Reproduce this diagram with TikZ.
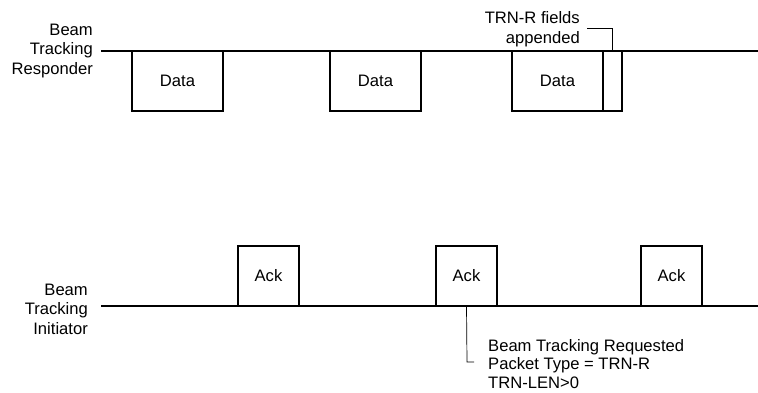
\documentclass[tikz,border=0pt]{standalone}
\usepackage{fontspec}
\setmainfont{Liberation Sans}
\begin{document}
\begin{tikzpicture}[x=1pt,y=-1pt,
  every node/.style={font=\fontsize{16.6}{19.5}\selectfont},
  frame/.style={draw,line width=1.3pt,inner sep=0pt,outer sep=0pt,anchor=north west},
  ln/.style={line width=1.3pt},
  lead/.style={line width=0.7pt},
  lbl/.style={align=right,anchor=east,inner sep=0pt}]
\useasboundingbox (0,0) rectangle (758,392);
% timelines
\coordinate (t0) at (101,51);
\coordinate (t1) at (758,51);
\coordinate (b0) at (101,306);
\coordinate (b1) at (758,306);
\draw[ln] (t0) -- (t1);
\draw[ln] (b0) -- (b1);
% labels
\node[lbl] (resp) at (93,51) {Beam\\Tracking\\Responder};
\node[lbl] (init) at (88,309) {Beam\\Tracking\\Initiator};
% data boxes
\node[frame,minimum width=91pt,minimum height=60pt] (d1) at (132,51) {Data};
\node[frame,minimum width=91pt,minimum height=60pt] (d2) at (330,51) {Data};
\node[frame,minimum width=91pt,minimum height=60pt] (d3) at (512,51) {Data};
\node[frame,minimum width=19pt,minimum height=60pt] (trn) at (603,51) {};
% ack boxes
\node[frame,minimum width=61pt,minimum height=60pt] (a1) at (238,246) {Ack};
\node[frame,minimum width=61pt,minimum height=60pt] (a2) at (436,246) {Ack};
\node[frame,minimum width=61pt,minimum height=60pt] (a3) at (641,246) {Ack};
% annotation top
\node[align=right,anchor=east,inner sep=0pt] (trnlbl) at (580,29) {TRN-R fields\\appended};
\coordinate (tk) at (612.5,28);
\coordinate (tl) at (587,28);
\draw[lead] (trn.north) -- (tk) -- (tl);
% annotation bottom
\node[align=left,anchor=west,inner sep=0pt,font=\fontsize{16.6}{18.5}\selectfont] (req) at (488,364) {Beam Tracking Requested\\Packet Type = TRN-R\\TRN-LEN>0};
\coordinate (bk) at (467,362);
\coordinate (bl) at (474,362);
\draw[lead] (a2.south) -- (bk) -- (bl);
\end{tikzpicture}
\end{document}
